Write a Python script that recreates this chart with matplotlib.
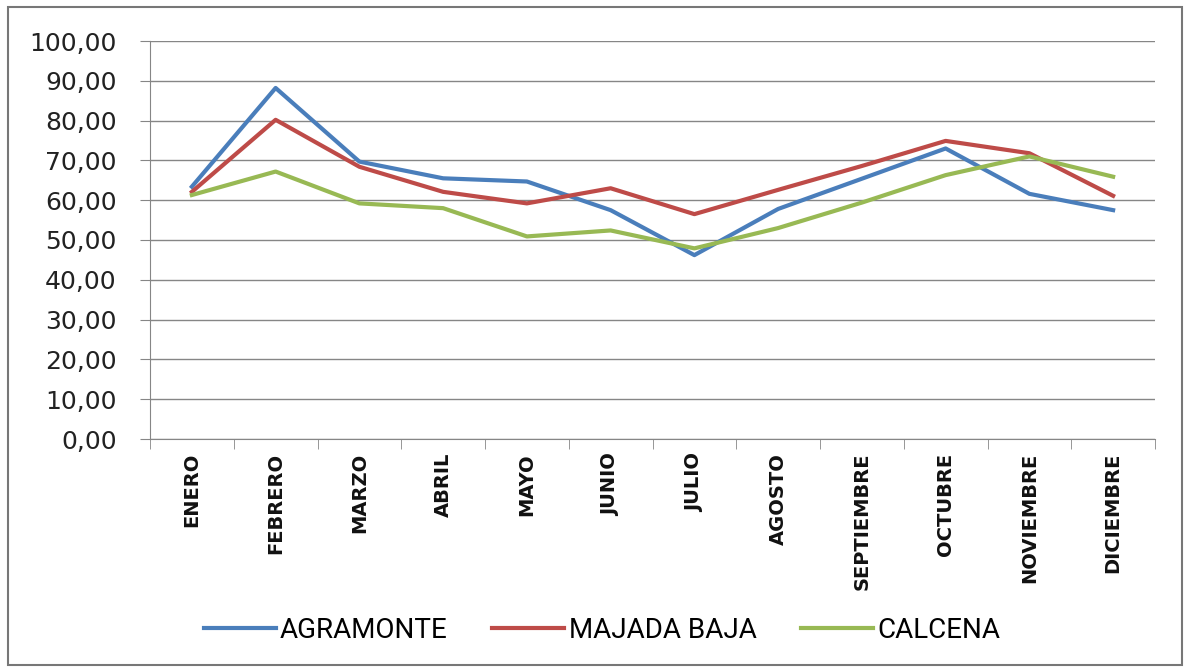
import numpy as np
import matplotlib.pyplot as plt
from matplotlib.patches import Rectangle

meses = ['ENERO', 'FEBRERO', 'MARZO', 'ABRIL', 'MAYO', 'JUNIO', 'JULIO',
         'AGOSTO', 'SEPTIEMBRE', 'OCTUBRE', 'NOVIEMBRE', 'DICIEMBRE']
agramonte = [63.4, 88.2, 69.7, 65.5, 64.7, 57.5, 46.2, 57.8, 65.4, 73.0, 61.6, 57.5]
majada_baja = [62.1, 80.2, 68.4, 62.1, 59.2, 63.0, 56.5, 62.6, 68.6, 74.9, 71.8, 61.1]
calcena = [61.3, 67.2, 59.2, 58.0, 50.9, 52.4, 47.9, 53.0, 59.4, 66.3, 71.0, 65.9]

plt.rcParams['font.family'] = ['DejaVu Sans']

fig = plt.figure(figsize=(11.88, 6.71), dpi=100)
ax = fig.add_axes([150 / 1188, 1 - 439 / 671, 1005 / 1188, 398 / 671])

x = np.arange(len(meses))
ax.plot(x, agramonte, color='#4A7EBB', lw=3.0, label='AGRAMONTE', solid_joinstyle='round')
ax.plot(x, majada_baja, color='#BE4B48', lw=3.0, label='MAJADA BAJA', solid_joinstyle='round')
ax.plot(x, calcena, color='#98B954', lw=3.0, label='CALCENA', solid_joinstyle='round')

ax.set_xlim(-0.5, len(meses) - 0.5)
ax.set_ylim(0, 100)
ax.set_yticks(np.arange(0, 101, 10))
ax.set_yticklabels([f'{v:.2f}'.replace('.', ',') for v in np.arange(0, 101, 10)],
                   fontsize=18, color='#222222')
ax.yaxis.grid(True, color='#868686', lw=1)
ax.set_axisbelow(True)

ax.set_xticks(x)
ax.set_xticklabels(meses, rotation=90, fontsize=14, fontweight='bold', color='#111111')
ax.set_xticks(np.arange(-0.5, len(meses)), minor=True)
ax.tick_params(axis='x', which='major', length=0, pad=10)
ax.tick_params(axis='x', which='minor', length=7, color='#868686')
ax.tick_params(axis='y', length=7, color='#868686', pad=17)

for s in ['top', 'right']:
    ax.spines[s].set_visible(False)
for s in ['left', 'bottom']:
    ax.spines[s].set_color('#868686')

fig.legend(loc='center', bbox_to_anchor=(602 / 1188, 1 - 630 / 671), ncol=3, frameon=False,
           prop={'family': 'Roboto', 'size': 20},
           handlelength=2.6, columnspacing=1.6, handletextpad=0.15)

fig.patches.append(Rectangle((8 / 1188, 6 / 671), 1174 / 1188, 658 / 671,
                             transform=fig.transFigure, fill=False,
                             edgecolor='#777777', lw=1.5))

fig.savefig('out.png', dpi=100)
